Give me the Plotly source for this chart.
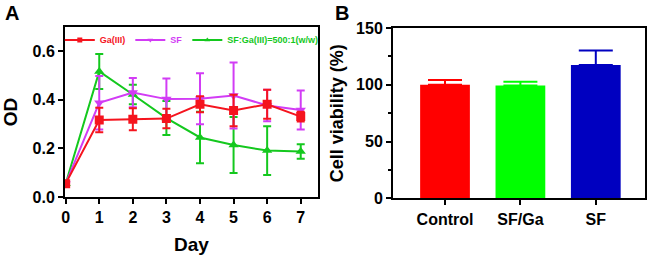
import plotly.graph_objects as go

# ---- Panel A data ----
days = [0, 1, 2, 3, 4, 5, 6, 7]
ga_od = [0.055, 0.317, 0.320, 0.323, 0.382, 0.356, 0.382, 0.331]
ga_err = [0.005, 0.050, 0.045, 0.040, 0.033, 0.065, 0.060, 0.020]
sf_od = [0.055, 0.388, 0.430, 0.403, 0.405, 0.418, 0.377, 0.358]
sf_err = [0.005, 0.110, 0.060, 0.085, 0.105, 0.136, 0.065, 0.080]
mix_od = [0.055, 0.517, 0.422, 0.325, 0.245, 0.214, 0.191, 0.187]
mix_err = [0.005, 0.072, 0.040, 0.070, 0.106, 0.115, 0.100, 0.030]

# ---- Panel B data ----
groups = ["Control", "SF/Ga", "SF"]
viability = [100.0, 99.4, 117.5]
viability_err = [4.2, 3.3, 12.6]

RED = "#F5141E"
PURPLE = "#D23CF5"
GREEN = "#14C81E"
BAR_COLORS = ["#FF0000", "#00FF00", "#0000C0"]
FONT = "Liberation Sans, Arial, sans-serif"
NARROW = "Liberation Sans Narrow, Arial Narrow, Liberation Sans, sans-serif"

fig = go.Figure()

def add_series(y, err, color, symbol, name):
    fig.add_trace(go.Scatter(
        x=days, y=y, mode="lines+markers",
        line=dict(color=color, width=2),
        marker=dict(symbol=symbol, size=9, color=color),
        error_y=dict(type="data", array=err, color=color, thickness=2, width=4),
        xaxis="x", yaxis="y", showlegend=False,
    ))
    # legend key only (no data points), with the small marker of the original key
    fig.add_trace(go.Scatter(
        x=[None], y=[None], mode="lines+markers",
        name=f"<span style='color:{color}'><b>{name}</b></span>",
        line=dict(color=color, width=2),
        marker=dict(symbol=symbol, size=5, color=color),
        xaxis="x", yaxis="y", showlegend=True,
    ))

add_series(mix_od, mix_err, GREEN, "triangle-up", "SF:Ga(III)=500:1(w/w)")
add_series(sf_od, sf_err, PURPLE, "triangle-down", "SF")
add_series(ga_od, ga_err, RED, "square", "Ga(III)")

for g, v, e, c in zip(groups, viability, viability_err, BAR_COLORS):
    fig.add_trace(go.Bar(
        x=[g], y=[v], width=0.66, marker=dict(color=c, line=dict(width=0)),
        error_y=dict(type="data", array=[e], arrayminus=[0], symmetric=False,
                     color=c, thickness=2, width=17),
        xaxis="x2", yaxis="y2", showlegend=False,
    ))

axis_common = dict(showline=True, linecolor="black", linewidth=2, mirror=True,
                   ticks="outside", tickwidth=2, ticklen=5, tickcolor="black",
                   showgrid=False, zeroline=False, automargin=False,
                   tickfont=dict(family=FONT, size=16, color="black", weight="bold"))

fig.update_layout(
    width=650, height=259,
    margin=dict(l=0, r=0, t=0, b=0),
    paper_bgcolor="white", plot_bgcolor="white",
    font=dict(family=FONT, color="black"),
    barmode="overlay",
    xaxis=dict(domain=[0.1, 0.489], range=[-0.02, 7.51], tickmode="array",
               tickvals=days, anchor="y",
               title=dict(text="<b>Day</b>", font=dict(family=FONT, size=19), standoff=13),
               **axis_common),
    yaxis=dict(domain=[0.2394, 0.8958], range=[0, 0.70], tickvals=[0, 0.2, 0.4, 0.6],
               tickformat=".1f", anchor="x",
               title=dict(text="<b>OD</b>", font=dict(family=FONT, size=19), standoff=10),
               **axis_common),
    xaxis2=dict(domain=[0.6046, 0.992], range=[-0.69, 2.65], anchor="y2",
                **axis_common),
    yaxis2=dict(domain=[0.234, 0.892], range=[0, 150], tickvals=[0, 50, 100, 150],
                anchor="x2",
                minor=dict(ticks="outside", tickvals=[25, 75, 125], ticklen=3,
                           tickwidth=2, tickcolor="black"),
                title=dict(text="<b>Cell viability (%)</b>", font=dict(family=FONT, size=18),
                           standoff=8),
                **axis_common),
    legend=dict(orientation="h", x=0.092, y=0.846, xanchor="left", yanchor="middle",
                bgcolor="rgba(0,0,0,0)", traceorder="reversed",
                font=dict(family=NARROW, size=9, weight="bold"),
                itemwidth=30, tracegroupgap=0),
    annotations=[
        dict(text="<b>A</b>", x=0.005, y=1.0, xref="paper", yref="paper",
             xanchor="left", yanchor="top", showarrow=False,
             font=dict(family=FONT, size=20, color="black")),
        dict(text="<b>B</b>", x=0.512, y=1.0, xref="paper", yref="paper",
             xanchor="left", yanchor="top", showarrow=False,
             font=dict(family=FONT, size=20, color="black")),
    ],
)

fig.write_html("out.html", config={"displayModeBar": False},
               post_script="document.body.style.margin='0';document.body.style.overflow='hidden';")
